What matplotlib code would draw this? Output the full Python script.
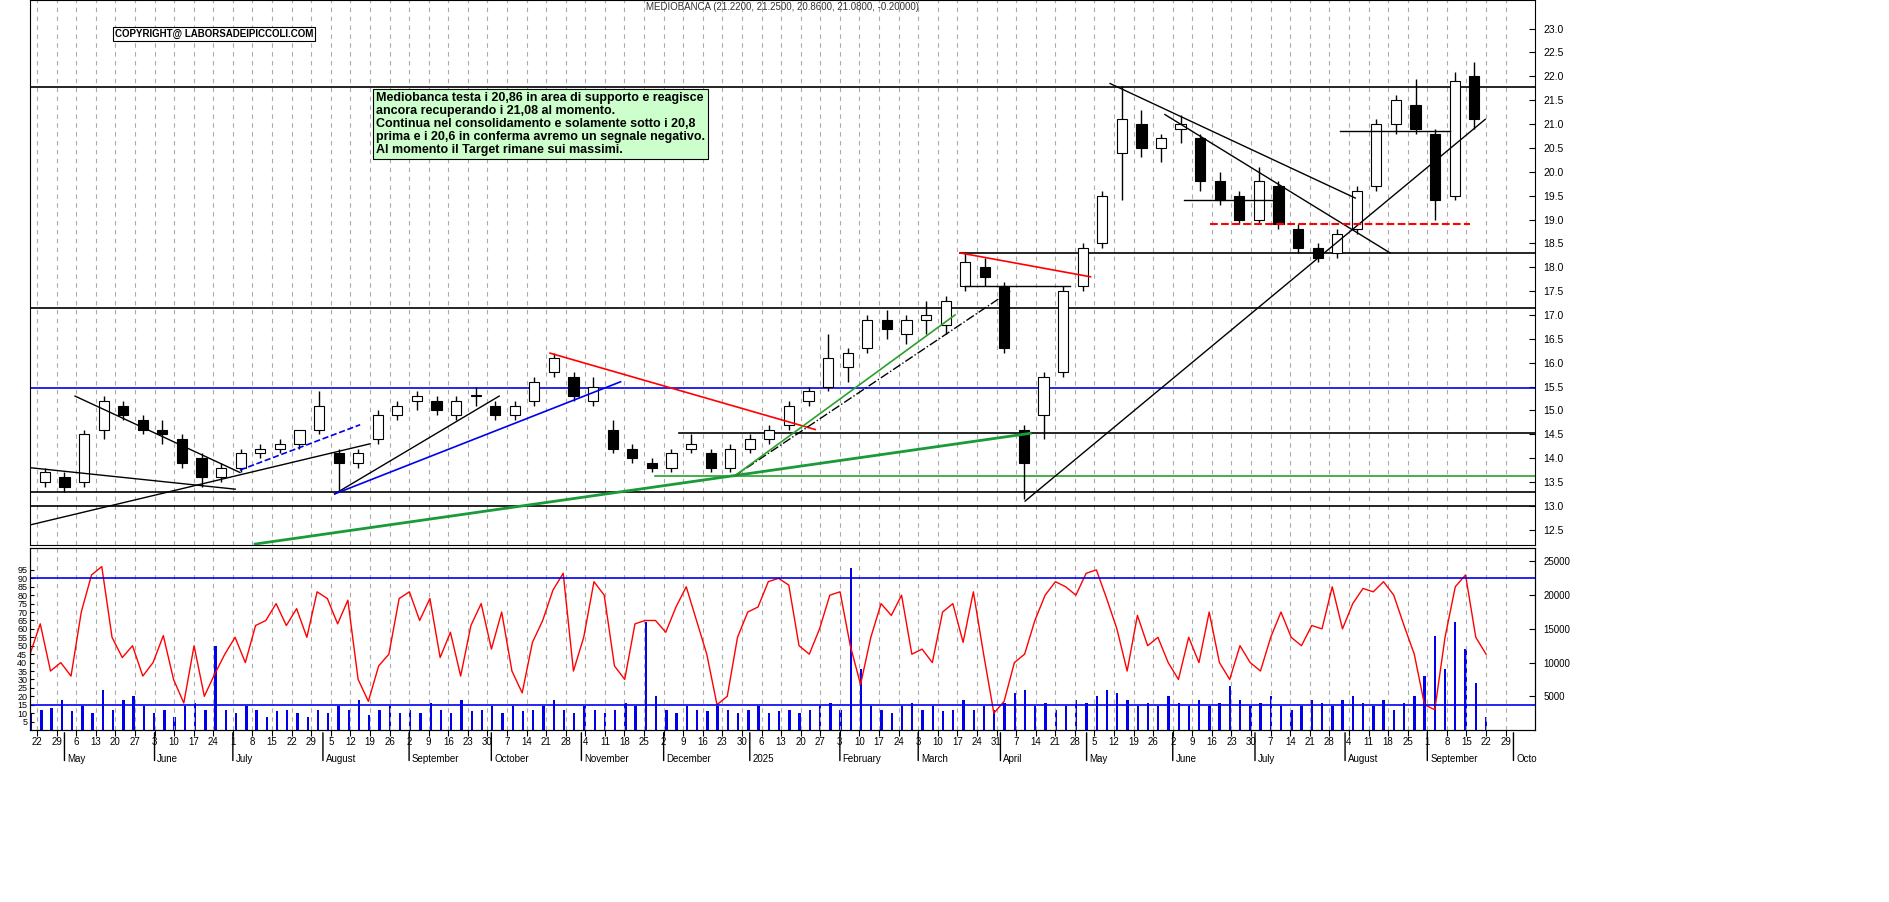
import matplotlib
matplotlib.use("Agg")
import matplotlib.pyplot as plt
import numpy as np
import pandas as pd

plt.rcParams["font.family"] = "Liberation Sans"

# ---------------- data ----------------
week_starts = pd.date_range("2024-04-22", "2025-09-15", freq="W-MON")
opens = [13.5,13.6,13.5,14.6,15.1,14.8,14.6,14.4,14.0,13.6,13.8,14.1,14.2,14.3,14.6,14.1,13.9,14.4,14.9,15.2,15.2,14.9,15.3,15.1,14.9,15.2,15.8,15.7,15.2,14.6,14.2,13.9,13.8,14.2,14.1,13.8,14.2,14.4,14.7,15.2,15.5,15.9,16.3,16.9,16.6,16.9,16.8,17.6,18.0,17.6,14.6,14.9,15.8,17.6,18.5,20.4,21.0,20.5,20.9,20.7,19.8,19.5,19.0,19.7,18.8,18.4,18.3,18.8,19.7,21.0,21.4,20.8,19.5,22.0]
highs = [13.8,13.7,14.6,15.3,15.2,14.9,14.8,14.5,14.1,13.9,14.2,14.3,14.4,14.6,15.4,14.2,14.2,15.0,15.2,15.4,15.3,15.3,15.5,15.2,15.2,15.7,16.2,15.8,15.7,14.8,14.3,14.0,14.2,14.5,14.2,14.3,14.5,14.7,15.2,15.5,16.6,16.3,17.0,17.1,17.0,17.3,17.4,18.3,18.2,17.7,14.7,15.8,17.6,18.5,19.6,21.8,21.3,20.8,21.2,20.8,20.0,19.6,20.1,19.8,18.9,18.5,18.8,19.7,21.1,21.6,21.95,20.9,22.1,22.3]
lows = [13.4,13.3,13.4,14.4,14.8,14.5,14.3,13.8,13.4,13.5,13.7,14.0,14.1,14.2,14.5,13.3,13.8,14.3,14.8,15.0,14.9,14.8,15.1,14.8,14.8,15.1,15.7,15.2,15.1,14.1,13.9,13.7,13.7,14.1,13.7,13.7,14.1,14.3,14.6,15.1,15.4,15.6,16.2,16.5,16.4,16.6,16.6,17.5,17.6,16.2,13.15,14.4,15.7,17.5,18.4,19.4,20.3,20.2,20.6,19.6,19.3,18.9,18.9,18.8,18.3,18.1,18.2,18.7,19.6,20.8,20.8,19.0,19.4,20.9]
closes = [13.7,13.4,14.5,15.2,14.9,14.6,14.5,13.9,13.6,13.8,14.1,14.2,14.3,14.6,15.1,13.9,14.1,14.9,15.1,15.3,15.0,15.2,15.3,14.9,15.1,15.6,16.1,15.3,15.5,14.2,14.0,13.8,14.1,14.3,13.8,14.2,14.4,14.6,15.1,15.4,16.1,16.2,16.9,16.7,16.9,17.0,17.3,18.1,17.8,16.3,13.9,15.7,17.5,18.4,19.5,21.1,20.5,20.7,21.0,19.8,19.4,19.0,19.8,18.9,18.4,18.2,18.7,19.6,21.0,21.5,20.9,19.4,21.9,21.1]

osc_values = [45,63,35,40,32,70,92,97,55,43,50,32,40,56,30,16,50,20,33,45,55,40,62,65,75,62,72,55,82,78,63,77,30,17,38,45,78,82,65,78,43,58,32,62,75,48,70,35,22,52,65,83,93,35,55,88,80,38,30,63,65,65,58,73,85,65,45,15,20,55,70,73,88,90,86,50,45,60,80,82,50,27,55,75,68,80,45,48,40,70,75,52,82,45,10,17,40,45,65,80,88,85,80,93,95,78,60,35,68,50,55,40,30,55,40,70,40,30,50,40,35,55,70,55,50,62,60,85,60,75,84,82,88,80,62,45,15,12,55,85,92,55,45]

volumes = [2500,3000,3200,4500,2800,3500,2500,6000,3000,4500,5000,3500,2500,3000,2000,3500,4000,3000,12500,3000,2500,3500,3000,2000,2800,3000,2500,2000,3000,2500,3500,3000,4500,2200,3000,3500,2500,3000,2500,4000,3000,2500,4500,2800,3000,3500,2500,3500,2800,3000,3500,4500,3000,2500,3500,3000,2500,3000,4000,3500,16000,5000,3000,2500,3500,3000,2800,3500,3000,2500,3000,3500,2500,2800,3000,2500,3000,3500,4000,3000,24000,9000,3500,3000,2500,3500,4000,3000,3500,2800,3000,4500,3000,3500,3000,4000,5500,6000,3500,4000,3000,3500,4500,4000,5000,6000,5500,4500,3500,4000,3500,5000,4000,3500,4500,3500,4000,6500,4500,3500,4000,5000,3500,3000,3500,4500,4000,3500,4500,5000,4000,3500,4500,3000,4000,5000,8000,14000,9000,16000,12000,7000,2000]

price_ticks = [12.5,13.0,13.5,14.0,14.5,15.0,15.5,16.0,16.5,17.0,17.5,18.0,18.5,19.0,19.5,20.0,20.5,21.0,21.5,22.0,22.5,23.0]
osc_ticks = [5,10,15,20,25,30,35,40,45,50,55,60,65,70,75,80,85,90,95]
vol_ticks = [5000,10000,15000,20000,25000]
month_names = ["January","February","March","April","May","June","July","August",
               "September","October","November","December"]

# support / resistance levels: (price, start bar, color)
hlines = [(21.77,0,"black"),(18.3,237.7,"black"),(17.15,0,"black"),(15.47,0,"#0000ee"),
          (14.52,166,"black"),(13.62,159.8,"#2ca02c"),(13.3,0,"black"),(13.0,0,"black")]
# trendlines: (bar1, price1, bar2, price2, color, style, width)
tlines = [(0.2,13.8,52.6,13.35,"black","-",1),(11.7,15.3,53.8,13.7,"black","-",1),
          (0.2,12.6,87,14.3,"black","-",1),(53.8,13.75,84.5,14.7,"#0000ee","--",1.2),
          (78,13.25,120,15.3,"black","-",1),(78,13.25,151,15.6,"#0000ee","-",1.2),
          (133,16.2,200.7,14.6,"red","-",1.2),(57.7,12.2,255.6,14.52,"#1a9a3a","-",2),
          (180,13.62,250.5,17.5,"black","-.",1),(180,13.62,236.4,17.0,"#2ca02c","-",1.2),
          (237.7,18.3,271,17.8,"red","-",1.2),(239,17.6,265.8,17.6,"black","-",1),
          (276,21.85,338.6,19.45,"black","-",1),(290,21.2,347.5,18.3,"black","-",1),
          (254.3,13.1,371.8,21.1,"black","-",1),(295,19.4,319.4,19.4,"black","-",1),
          (301.5,18.9,368,18.9,"red","--",1.5),(334.7,20.85,362.8,20.85,"black","-",1)]

# ---------------- figure ----------------
W, H = 1890, 902
fig = plt.figure(figsize=(W/100, H/100), dpi=100)
L, R = 30/W, 1535/W
axp = fig.add_axes([L, 1-545/H, R-L, 545/H])
axo = fig.add_axes([L, 1-730/H, R-L, (730-548)/H])
axv = axo.twinx()

days = pd.bdate_range("2024-04-18", "2025-10-03")
pos = {d: i for i, d in enumerate(days)}
XL = (0.2, 384.5)

for ax in (axp, axo, axv):
    ax.set_xlim(*XL)

mondays = [i for i, d in enumerate(days) if d.weekday() == 0]
for ax in (axp, axo):
    for m in mondays:
        ax.axvline(m, color="#aaaaaa", ls=(0, (4, 4)), lw=0.8, zorder=0)

# candles
for ws, o, h, l, c in zip(week_starts, opens, highs, lows, closes):
    x = pos[ws] + 2
    axp.vlines(x, l, h, color="black", lw=1, zorder=3)
    fc = "white" if c >= o else "black"
    axp.bar(x, abs(c-o) if abs(c-o) > 0.02 else 0.03, bottom=min(o, c), width=2.6,
            color=fc, edgecolor="black", lw=0.8, zorder=4)

for y, x0, col in hlines:
    axp.plot([x0, XL[1]], [y, y], color=col, lw=1.2, zorder=2)
for x1, y1, x2, y2, col, ls, lw in tlines:
    axp.plot([x1, x2], [y1, y2], color=col, ls=ls, lw=lw, zorder=5)

axp.set_ylim(12.18, 23.6)
axp.yaxis.tick_right()
axp.set_yticks(price_ticks)
axp.set_yticklabels([f"{t:.1f}" for t in price_ticks], fontsize=7.5)
axp.tick_params(axis="x", bottom=False, labelbottom=False)
axp.tick_params(axis="y", direction="in", length=4, pad=6)

axp.text(0.5, 0.997, "MEDIOBANCA (21.2200, 21.2500, 20.8600, 21.0800, -0.20000)",
         transform=axp.transAxes, ha="center", va="top", fontsize=7, color="#333333")
fig.text(115/W, 1-34/H, "COPYRIGHT@ LABORSADEIPICCOLI.COM", fontsize=7, weight="bold",
         va="center", ha="left", bbox=dict(facecolor="white", edgecolor="black", pad=1.2, lw=0.8))
fig.text(376/W, 1-124/H,
         "Mediobanca testa i 20,86 in area di supporto e reagisce\n"
         "ancora recuperando i 21,08 al momento.\n"
         "Continua nel consolidamento e solamente sotto i 20,8\n"
         "prima e i 20,6 in conferma avremo un segnale negativo.\n"
         "Al momento il Target rimane sui massimi.",
         fontsize=9, weight="bold", va="center", ha="left", linespacing=1.1,
         bbox=dict(facecolor="#ccffcc", edgecolor="black", pad=2, lw=0.8))

# oscillator & volume
xo = np.linspace(0.2, 372, len(osc_values))
xv = np.linspace(0.5, 372, len(volumes))
axv.bar(xv, volumes, width=0.6, color="#0000ee", zorder=2)
axv.set_ylim(0, 27000)
axv.set_yticks(vol_ticks)
axv.set_yticklabels([str(v) for v in vol_ticks], fontsize=7)
axv.tick_params(axis="y", direction="in", length=4, pad=6)
axo.set_zorder(axv.get_zorder()+1)
axo.patch.set_visible(False)
axo.plot(xo, osc_values, color="red", lw=1)
axo.axhline(90, color="#0000ee", lw=1.2)
axo.axhline(15, color="#0000ee", lw=1.2)
axo.set_ylim(0, 108)
axo.set_yticks(osc_ticks)
axo.set_yticklabels([str(t) for t in osc_ticks], fontsize=6.5)
axo.tick_params(axis="y", direction="in", length=3, pad=2)

# date axis: mondays day numbers, month names below
axo.set_xticks(mondays)
axo.set_xticklabels([str(days[m].day) for m in mondays], fontsize=7)
axo.tick_params(axis="x", length=4, pad=1)
firsts = [i for i in range(1, len(days)) if days[i].month != days[i-1].month]
for i in firsts:
    d = days[i]
    lab = "2025" if d.month == 1 else month_names[d.month-1]
    if d.month == 10 and d.year == 2025:
        lab = "Octo"
    axo.annotate(lab, xy=(i, 0), xycoords=("data", "axes fraction"), xytext=(2, -21),
                 textcoords="offset points", fontsize=7, ha="left", va="center")
    axo.annotate("", xy=(i, 0), xycoords=("data", "axes fraction"), xytext=(0, -24),
                 textcoords="offset points",
                 arrowprops=dict(arrowstyle="-", color="black", lw=1))

fig.savefig("out.png", dpi=100, facecolor="white")
